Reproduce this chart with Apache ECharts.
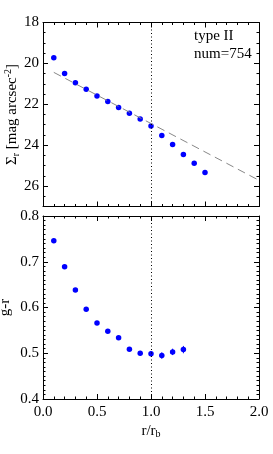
<!DOCTYPE html>
<html><head><meta charset="utf-8">
<script src="https://cdn.jsdelivr.net/npm/echarts@6/dist/echarts.min.js"></script>
<style>html,body{margin:0;padding:0;background:#fff}#c{width:273px;height:454px}</style>
</head><body><div id="c"></div>
<script>
var radius = [0.1,0.2,0.3,0.4,0.5,0.6,0.7,0.8,0.9,1.0,1.1,1.2,1.3,1.4,1.5];
var sigma = [19.73,20.49,20.95,21.27,21.60,21.86,22.16,22.44,22.72,23.06,23.53,23.97,24.46,24.89,25.34];
var fitX = [0.1, 2.0];
var fitY = [20.44, 25.72];
var colorRadius = [0.1,0.2,0.3,0.4,0.5,0.6,0.7,0.8,0.9,1.0,1.1,1.2,1.3];
var gr = [0.746,0.689,0.638,0.596,0.566,0.548,0.534,0.509,0.500,0.499,0.495,0.503,0.508];
var grErr = [0.003,0.003,0.003,0.003,0.003,0.003,0.003,0.004,0.005,0.006,0.007,0.007,0.008];
var breakRadius = 1.0;
var xTicks = ['0.0','0.5','1.0','1.5','2.0'];

var FONT = 'Liberation Serif';
var chart = echarts.init(document.getElementById('c'), null, {renderer:'canvas'});

function xAx(grid, pos, labels) {
  return {
    type:'value', gridIndex:grid, position:pos, min:0, max:2, interval:0.5,
    axisLine:{show:true, onZero:false, lineStyle:{color:'#000', width:1}},
    axisTick:{show:true, inside:true, length:5, lineStyle:{color:'#000'}},
    minorTick:{show:true, splitNumber:5, length:2.5, lineStyle:{color:'#000'}},
    splitLine:{show:false},
    axisLabel:{show:labels, color:'#000', fontFamily:FONT, fontSize:15, margin:6,
      formatter:function(v){ return xTicks[Math.round(v/0.5)]; }},
    name: labels ? '{n|r/r}{s|b}' : '',
    nameLocation:'middle', nameGap:24, nameMoveOverlap:false,
    nameTextStyle:{rich:{n:{fontFamily:FONT,fontSize:15,color:'#000'}, s:{fontFamily:FONT,fontSize:10,color:'#000',verticalAlign:'bottom',padding:[6,0,0,0]}}}
  };
}
function yAx(grid, pos, labels, opts) {
  var a = {
    type:'value', gridIndex:grid, position:pos,
    axisLine:{show:true, onZero:false, lineStyle:{color:'#000', width:1}},
    axisTick:{show:true, inside:true, length:5, lineStyle:{color:'#000'}},
    minorTick:{show:true, length:2.5, lineStyle:{color:'#000'}},
    splitLine:{show:false}, nameMoveOverlap:false,
    axisLabel:{show:labels, color:'#000', fontFamily:FONT, fontSize:15, margin:4, showMaxLabel:true}
  };
  for (var k in opts) {
    if (k === 'minorSplit') a.minorTick.splitNumber = opts[k];
    else if (k === 'showMax') a.axisLabel.showMaxLabel = opts[k];
    else if (k === 'fmt') a.axisLabel.formatter = opts[k];
    else a[k] = opts[k];
  }
  return a;
}

var option = {
  animation:false,
  backgroundColor:'#fff',
  title:[
    {text:'type II', left:194, top:29, padding:0, textStyle:{fontFamily:FONT, fontSize:15, fontWeight:'normal', color:'#000'}},
    {text:'num=754', left:194, top:47, padding:0, textStyle:{fontFamily:FONT, fontSize:15, fontWeight:'normal', color:'#000'}}
  ],
  grid:[
    {left:43, top:22.5, width:216, height:184, containLabel:false, outerBoundsMode:'none'},
    {left:43, top:216, width:216, height:183, containLabel:false, outerBoundsMode:'none'}
  ],
  xAxis:[
    xAx(0,'bottom',false), xAx(0,'top',false),
    xAx(1,'bottom',true), xAx(1,'top',false)
  ],
  yAxis:[
    yAx(0,'left',true,{min:18,max:27,interval:2,inverse:true,minorSplit:4,showMax:false,
      name:'{n|Σ}{s|r}{n| [mag arcsec}{p|-2}{n|]}', nameLocation:'middle', nameGap:22,
      nameTextStyle:{rich:{n:{fontFamily:FONT,fontSize:15,color:'#000'}, s:{fontFamily:FONT,fontSize:10,color:'#000',padding:[8,0,0,0]}, p:{fontFamily:FONT,fontSize:10,color:'#000',padding:[0,0,8,0]}}}}),
    yAx(0,'right',false,{min:18,max:27,interval:2,inverse:true,minorSplit:4}),
    yAx(1,'left',true,{min:0.4,max:0.8,interval:0.1,minorSplit:10,
      fmt:function(v){return v.toFixed(1);},
      name:'g-r', nameLocation:'middle', nameGap:30,
      nameTextStyle:{fontFamily:FONT,fontSize:15,color:'#000'}}),
    yAx(1,'right',false,{min:0.4,max:0.8,interval:0.1,minorSplit:10})
  ],
  series:[
    {type:'line', xAxisIndex:0, yAxisIndex:0, data:fitX.map(function(x,i){return [x,fitY[i]];}),
      symbol:'none', silent:true, lineStyle:{color:'#888', width:1, type:[8,5]}},
    {type:'scatter', xAxisIndex:0, yAxisIndex:0, data:radius.map(function(x,i){return [x,sigma[i]];}),
      symbol:'circle', symbolSize:5.5, itemStyle:{color:'#0000ff', opacity:1},
      markLine:{silent:true, symbol:'none', label:{show:false}, data:[{xAxis:breakRadius}],
        lineStyle:{color:'#000', width:1, type:[1,2.5]}}},
    {type:'custom', xAxisIndex:2, yAxisIndex:2, data:colorRadius.map(function(x,i){return [x,gr[i]-grErr[i],gr[i]+grErr[i]];}),
      renderItem:function(params, api){
        var a = api.coord([api.value(0), api.value(1)]);
        var b = api.coord([api.value(0), api.value(2)]);
        return {type:'line', shape:{x1:a[0],y1:a[1],x2:b[0],y2:b[1]}, style:{stroke:'#0000ff', lineWidth:1}};
      }, silent:true, z:1},
    {type:'scatter', xAxisIndex:2, yAxisIndex:2, data:colorRadius.map(function(x,i){return [x,gr[i]];}),
      symbol:'circle', symbolSize:5.5, itemStyle:{color:'#0000ff', opacity:1}, z:3,
      markLine:{silent:true, symbol:'none', label:{show:false}, data:[{xAxis:breakRadius}],
        lineStyle:{color:'#000', width:1, type:[1,2.5]}}}
  ]
};
chart.setOption(option);
</script></body></html>
